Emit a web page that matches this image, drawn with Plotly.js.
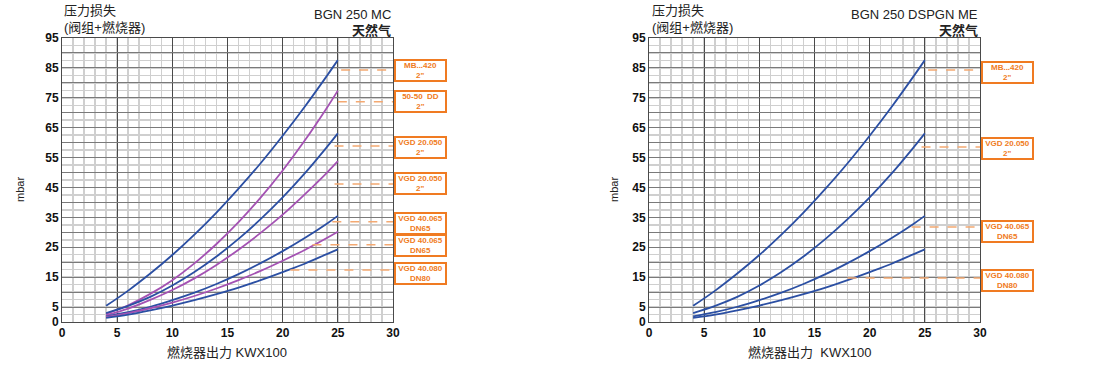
<!DOCTYPE html>
<html><head><meta charset="utf-8">
<script src="https://cdn.plot.ly/plotly-3.0.1.min.js"></script>
<style>html,body{margin:0;padding:0;background:#fff}#chart{width:1112px;height:368px}</style>
</head><body><div id="chart"></div>
<script>
// Burner output (kW x 100)
const xPts = [4, 6, 8, 10, 12, 14, 16, 18, 20, 22, 24, 25];
// Pressure loss curves (mbar)
const blue1   = [5.4, 10.5, 16.2, 22.4, 29.2, 36.6, 44.6, 53.1, 62.3, 72.0, 82.3, 87.6];
const purple1 = [2.7, 5.6, 9.4, 14.0, 19.6, 26.1, 33.4, 41.6, 50.7, 60.7, 71.6, 77.4];
const blue2   = [3.0, 5.4, 8.4, 12.2, 16.7, 21.9, 27.8, 34.4, 41.7, 49.7, 58.5, 63.1];
const purple2 = [2.3, 4.5, 7.4, 10.7, 14.6, 19.1, 24.2, 29.8, 35.9, 42.7, 49.9, 53.8];
const blue3   = [1.9, 3.3, 5.1, 7.3, 9.8, 12.7, 16.0, 19.7, 23.7, 28.1, 32.9, 35.5];
const purple3 = [1.7, 3.0, 4.6, 6.5, 8.7, 11.2, 14.0, 17.1, 20.5, 24.1, 28.1, 30.2];
const blue4   = [1.4, 2.5, 3.9, 5.5, 7.3, 9.3, 11.5, 14.0, 16.7, 19.5, 22.7, 24.3];

// Valve train labels - left chart (BGN 250 MC)
const leftLabels = ['MB...420<br>2"', '50-50  DD<br>2"', 'VGD 20.050<br>2"', 'VGD 20.050<br>2"', 'VGD 40.065<br>DN65', 'VGD 40.065<br>DN65', 'VGD 40.080<br>DN80'];
const leftBoxY   = [84.1, 73.6, 58.4, 46.2, 32.8, 25.6, 16.2];
const leftDashY  = [84.3, 73.7, 58.9, 46.2, 33.5, 25.8, 17.4];
const leftDashX0 = [25.3, 25.0, 24.7, 24.7, 24.5, 22.7, 20.7];
// Right chart (BGN 250 DSPGN ME)
const rightLabels = ['MB...420<br>2"', 'VGD 20.050<br>2"', 'VGD 40.065<br>DN65', 'VGD 40.080<br>DN80'];
const rightBoxY   = [83.6, 58.2, 30.4, 14.0];
const rightDashY  = [84.3, 58.5, 31.8, 14.7];
const rightDashX0 = [25.3, 24.7, 23.8, 18.0];

const yTickVals = [0,5,10,15,20,25,30,35,40,45,50,55,60,65,70,75,80,85,90,95];
const yTickText = ['0','5','','15','','25','','35','','45','','55','','65','','75','','85','','95'];
const xTickVals = [0,5,10,15,20,25,30];

const BLUE = '#2b4fa3', PURPLE = '#a452b3', ORANGE = '#f07b22', DASH = '#f4a972';
const FONT = 'Liberation Sans, Arial, Noto Sans CJK SC, sans-serif';

function tr(y, color, xa, ya) {
  return {x: xPts, y: y, type: 'scatter', mode: 'lines', line: {color: color, width: 1.8, shape: 'spline'},
          xaxis: xa, yaxis: ya, showlegend: false, hoverinfo: 'skip'};
}
const data = [
  tr(blue1, BLUE, 'x', 'y'), tr(purple1, PURPLE, 'x', 'y'), tr(blue2, BLUE, 'x', 'y'),
  tr(purple2, PURPLE, 'x', 'y'), tr(blue3, BLUE, 'x', 'y'), tr(purple3, PURPLE, 'x', 'y'), tr(blue4, BLUE, 'x', 'y'),
  tr(blue1, BLUE, 'x2', 'y2'), tr(blue2, BLUE, 'x2', 'y2'), tr(blue3, BLUE, 'x2', 'y2'), tr(blue4, BLUE, 'x2', 'y2')
];

const W = 1112, H = 368;
function px(v) { return v / W; }
function py(v) { return 1 - v / H; }

function xAxis(dom, anchor) {
  return {domain: dom, anchor: anchor, range: [0, 30], tickmode: 'array', tickvals: xTickVals,
    showgrid: true, gridcolor: '#4a4a4a', gridwidth: 1, zeroline: false,
    showline: true, linecolor: '#4a4a4a', linewidth: 1, mirror: true, ticks: '',
    tickfont: {family: FONT, size: 12, color: '#111', weight: 'bold'},
    minor: {tickmode: 'linear', tick0: 0, dtick: 1, showgrid: true, gridcolor: '#cfcfcf', gridwidth: 1.5}};
}
function yAxis(dom, anchor) {
  return {domain: dom, anchor: anchor, range: [0, 95], tickmode: 'array', tickvals: yTickVals, ticktext: yTickText,
    showgrid: true, gridcolor: '#7a7a7a', gridwidth: 1, zeroline: false,
    showline: true, linecolor: '#4a4a4a', linewidth: 1, mirror: true, ticks: '',
    tickfont: {family: FONT, size: 12, color: '#111', weight: 'bold'},
    minor: {tickmode: 'linear', tick0: 0, dtick: 2.5, showgrid: true, gridcolor: '#cfcfcf', gridwidth: 1.5}};
}

const yDom = [(H - 322) / H, (H - 38) / H];
const layout = {
  width: W, height: H, margin: {l: 0, r: 0, t: 0, b: 0},
  paper_bgcolor: '#fff', plot_bgcolor: '#fff', showlegend: false,
  font: {family: FONT},
  xaxis: xAxis([px(62), px(393)], 'y'),
  yaxis: yAxis(yDom, 'x'),
  xaxis2: xAxis([px(649), px(980)], 'y2'),
  yaxis2: yAxis(yDom, 'x2'),
  shapes: [], annotations: []
};

function addLabels(labels, boxY, dashY, dashX0, xa, ya, boxLeftPx) {
  for (let i = 0; i < labels.length; i++) {
    layout.shapes.push({type: 'line', xref: xa, yref: ya, x0: dashX0[i], x1: 30, y0: dashY[i], y1: dashY[i],
      line: {color: DASH, width: 1.5, dash: 'dash'}, layer: 'above'});
    layout.annotations.push({xref: 'paper', yref: ya, x: px(boxLeftPx), y: boxY[i], xanchor: 'left', yanchor: 'middle',
      text: '<b>' + labels[i] + '</b>', showarrow: false, align: 'center', width: 49, height: 19,
      bgcolor: '#fff', bordercolor: ORANGE, borderwidth: 2, borderpad: 0,
      font: {family: FONT, size: 8, color: ORANGE}});
  }
}
addLabels(leftLabels, leftBoxY, leftDashY, leftDashX0, 'x', 'y', 394);
addLabels(rightLabels, rightBoxY, rightDashY, rightDashX0, 'x2', 'y2', 981);

function txt(x, y, text, anchor, size, opts) {
  layout.annotations.push(Object.assign({xref: 'paper', yref: 'paper', x: px(x), y: py(y), text: text,
    xanchor: anchor, yanchor: 'middle', showarrow: false,
    font: {family: FONT, size: size, color: '#222'}}, opts || {}));
}
// Left chart titles
txt(62, 11, '压力损失', 'left', 13);
txt(62, 27, '(阀组+燃烧器)', 'left', 13);
txt(393, 14, 'BGN 250 MC', 'right', 13);
txt(393, 30, '<b>天然气</b>', 'right', 13);
txt(227, 352, '燃烧器出力 KWX100', 'center', 13);
txt(20, 190, 'mbar', 'center', 11, {textangle: -90});
// Right chart titles
txt(650, 11, '压力损失', 'left', 13);
txt(650, 27, '(阀组+燃烧器)', 'left', 13);
txt(980, 14, 'BGN 250 DSPGN ME', 'right', 13);
txt(980, 30, '<b>天然气</b>', 'right', 13);
txt(810, 352, '燃烧器出力  KWX100', 'center', 13);
txt(614, 190, 'mbar', 'center', 11, {textangle: -90});

Plotly.newPlot('chart', data, layout, {displayModeBar: false, staticPlot: true});
</script></body></html>
